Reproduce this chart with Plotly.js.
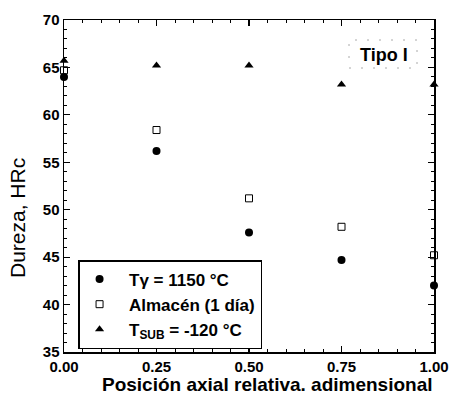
<!DOCTYPE html>
<html>
<head>
<meta charset="utf-8">
<script src="https://cdn.plot.ly/plotly-3.0.1.min.js"></script>
<style>html,body{margin:0;padding:0;background:#fff;}#chart{width:453px;height:403px;}</style>
</head>
<body>
<div id="chart"></div>
<script>
const positions = [0.00, 0.25, 0.50, 0.75, 1.00];
const tGamma = [64.0, 56.2, 47.6, 44.7, 42.0];
const almacen = [64.7, 58.4, 51.2, 48.2, 45.2];
const tSub = [65.7, 65.2, 65.2, 63.2, 63.2];
const seriesNames = ["Tγ = 1150 °C", "Almacén (1 día)", "T<sub>SUB</sub> = -120 °C"];
const xTickVals = [0, 0.25, 0.5, 0.75, 1.0];
const xTickText = ["0.00", "0.25", "0.50", "0.75", "1.00"];
const yTickVals = [35, 40, 45, 50, 55, 60, 65, 70];
const yTickText = ["35", "40", "45", "50", "55", "60", "65", "70"];

const font = "Liberation Sans, Arial, sans-serif";
const pad = "\u00a0\u00a0";

const traces = [
  {x: positions, y: tGamma, name: pad + seriesNames[0], mode: 'markers', type: 'scatter',
   marker: {symbol: 'circle', size: 8, color: '#000'}, cliponaxis: false},
  {x: positions, y: almacen, name: pad + seriesNames[1], mode: 'markers', type: 'scatter',
   marker: {symbol: 'square-open', size: 7, color: '#000', line: {width: 1, color: '#000'}}, cliponaxis: false},
  {x: positions, y: tSub, name: pad + seriesNames[2], mode: 'markers', type: 'scatter',
   marker: {symbol: 'triangle-up', size: 8, color: '#000'}, cliponaxis: false}
];

function axisBase() {
  return {
    showline: true, linecolor: '#000', linewidth: 1.5, mirror: 'ticks',
    ticks: 'inside', ticklen: 6, tickwidth: 1.2, tickcolor: '#000',
    showgrid: false, zeroline: false,
    tickfont: {family: font, size: 15, color: '#000', weight: 700}
  };
}

const layout = {
  width: 453, height: 403,
  margin: {l: 64, r: 19, t: 20, b: 51},
  paper_bgcolor: '#fff', plot_bgcolor: '#fff',
  showlegend: true,
  legend: {
    x: 0.038, y: 0.277, xanchor: 'left', yanchor: 'top',
    bordercolor: '#000', borderwidth: 1.5, bgcolor: '#fff',
    font: {family: font, size: 17, color: '#000', weight: 'bold'},
    itemsizing: 'trace', tracegroupgap: 0
  },
  xaxis: Object.assign(axisBase(), {
    range: [0, 1], tickvals: xTickVals, ticktext: xTickText.map(t => '<b>' + t + '</b>'),
    minor: {dtick: 0.05, ticks: 'inside', ticklen: 3, tickcolor: '#000', tickwidth: 1}
  }),
  yaxis: Object.assign(axisBase(), {
    range: [35, 70], tickvals: yTickVals, ticktext: yTickText.map(t => '<b>' + t + '</b>'),
    minor: {dtick: 1, ticks: 'inside', ticklen: 3, tickcolor: '#000', tickwidth: 1}
  }),
  shapes: [{
    type: 'rect', xref: 'paper', yref: 'paper',
    x0: (349 - 64) / 370, x1: (417 - 64) / 370, y0: (352 - 68) / 332, y1: (352 - 40) / 332,
    line: {color: '#aaa', width: 1, dash: '2px,10px'}, fillcolor: 'rgba(0,0,0,0)'
  }],
  annotations: [
    {text: '<b>Tipo I</b>', xref: 'paper', yref: 'paper', x: (384 - 64) / 370, y: (352 - 55) / 332,
     xanchor: 'center', yanchor: 'middle', showarrow: false,
     font: {family: font, size: 18, color: '#000'}},
    {text: '<b>Posición axial relativa. adimensional</b>', xref: 'paper', yref: 'paper',
     x: (267 - 64) / 370, y: (352 - 385) / 332, xanchor: 'center', yanchor: 'middle', showarrow: false,
     font: {family: font, size: 19, color: '#000'}},
    {text: 'Dureza, HRc', xref: 'paper', yref: 'paper', textangle: -90,
     x: (17 - 64) / 370, y: (352 - 218) / 332, xanchor: 'center', yanchor: 'middle', showarrow: false,
     font: {family: font, size: 21, color: '#000'}}
  ]
};

Plotly.newPlot('chart', traces, layout, {displayModeBar: false, staticPlot: true});
</script>
</body>
</html>
